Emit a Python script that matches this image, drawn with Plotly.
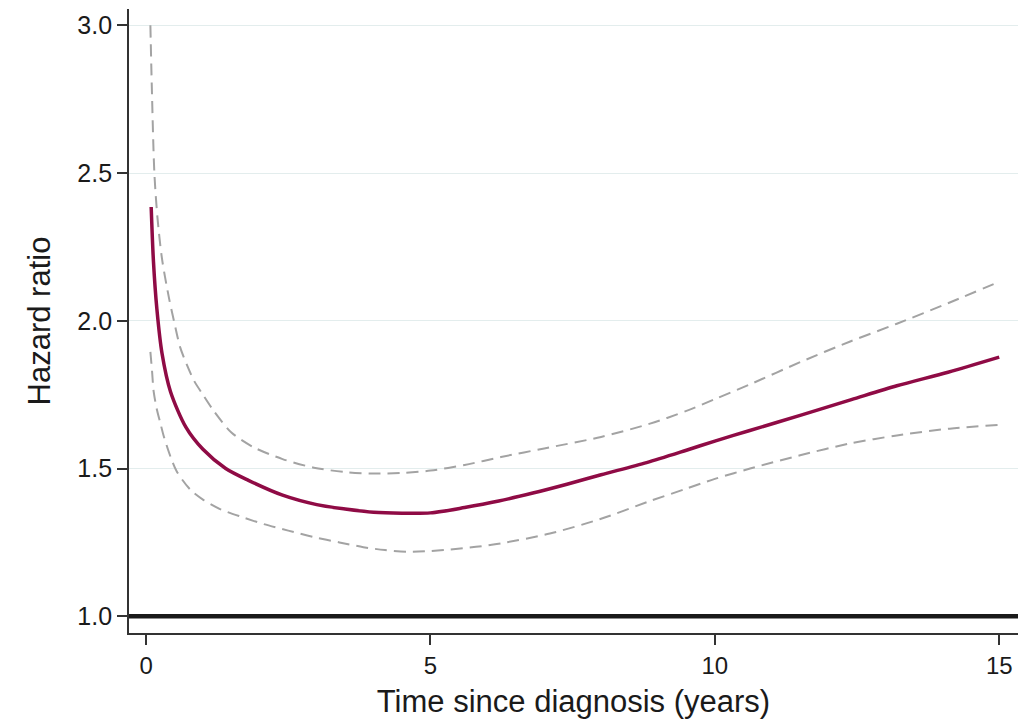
import plotly.graph_objects as go

# Estimated hazard ratio over time since diagnosis
t_hr = [0.09, 0.13, 0.19, 0.28, 0.43, 0.70, 1.0, 1.4, 1.8, 2.4, 3.0, 3.5, 4.0, 4.5,
        5.0, 5.6, 6.2, 6.8, 7.4, 8.0, 8.8, 9.5, 10.0, 10.6, 11.5, 12.4, 13.2, 14.1, 15.0]
hr = [2.385, 2.20, 2.04, 1.89, 1.76, 1.64, 1.565, 1.50, 1.46, 1.41, 1.378, 1.363, 1.352, 1.349,
      1.350, 1.368, 1.39, 1.417, 1.447, 1.479, 1.52, 1.562, 1.593, 1.628, 1.68, 1.733, 1.78, 1.826, 1.877]

# Upper 95% confidence limit
t_upper = [0.076, 0.10, 0.146, 0.20, 0.28, 0.40, 0.49, 0.60, 0.72, 0.85, 1.0, 1.19, 1.5, 1.89, 2.4,
           2.95, 3.5, 4.0, 4.5, 5.0, 5.6, 6.24, 7.0, 8.0, 8.86, 9.5, 10.0, 10.62, 11.5, 12.38, 13.2,
           14.13, 15.0]
upper = [3.00, 2.80, 2.50, 2.35, 2.21, 2.08, 2.00, 1.91, 1.85, 1.795, 1.75, 1.695, 1.622, 1.572, 1.532,
         1.503, 1.488, 1.483, 1.485, 1.493, 1.512, 1.539, 1.568, 1.607, 1.652, 1.695, 1.735, 1.785, 1.86,
         1.93, 1.99, 2.062, 2.132]

# Lower 95% confidence limit
t_lower = [0.076, 0.105, 0.134, 0.19, 0.25, 0.31, 0.43, 0.54, 0.78, 1.0, 1.31, 1.7, 2.07, 2.5,
           2.95, 3.4, 3.82, 4.2, 4.59, 5.0, 5.35, 5.8, 6.24, 7.1, 8.0, 8.86, 9.5, 10.0, 10.62, 11.5,
           12.38, 13.2, 14.13, 15.0]
lower = [1.895, 1.83, 1.76, 1.70, 1.655, 1.61, 1.54, 1.49, 1.428, 1.395, 1.362, 1.335, 1.312, 1.29,
         1.268, 1.25, 1.234, 1.224, 1.218, 1.221, 1.226, 1.235, 1.247, 1.28, 1.33, 1.39, 1.432, 1.465,
         1.50, 1.545, 1.585, 1.612, 1.635, 1.648]

x_ticks = [0, 5, 10, 15]
y_ticks = [1.0, 1.5, 2.0, 2.5, 3.0]
y_tick_text = ["1.0", "1.5", "2.0", "2.5", "3.0"]
reference_hr = 1.0

FONT = "Liberation Sans, Arial, sans-serif"
TXT = "#1a1a1a"

fig = go.Figure()

fig.add_trace(go.Scatter(x=t_upper, y=upper, mode="lines",
                         line=dict(color="#a3a3a3", width=2, dash="12px,7px", shape="spline", smoothing=0.8),
                         hoverinfo="skip", showlegend=False))
fig.add_trace(go.Scatter(x=t_lower, y=lower, mode="lines",
                         line=dict(color="#a3a3a3", width=2, dash="12px,7px", shape="spline", smoothing=0.8),
                         hoverinfo="skip", showlegend=False))
fig.add_trace(go.Scatter(x=t_hr, y=hr, mode="lines",
                         line=dict(color="#8f0b45", width=3.5, shape="spline", smoothing=0.8),
                         showlegend=False))

fig.add_shape(type="line", xref="paper", x0=0, x1=1, yref="y", y0=reference_hr, y1=reference_hr,
              line=dict(color="#1a1a1a", width=4.5), layer="above")

# the page body adds an 8px offset, so the figure is sized to fit the window
fig.update_layout(
    width=1022, height=711,
    margin=dict(l=121, r=12, t=1, b=86),
    paper_bgcolor="white", plot_bgcolor="white",
    font=dict(family=FONT, color=TXT),
)

fig.update_xaxes(
    range=[-0.30, 15.33], tickvals=x_ticks, ticktext=[str(v) for v in x_ticks],
    showgrid=False, zeroline=False, automargin=False,
    showline=True, linecolor="#333333", linewidth=1.8,
    ticks="outside", ticklen=10, tickwidth=1.8, tickcolor="#333333",
    tickfont=dict(size=24, family=FONT, color=TXT),
    title=dict(text="Time since diagnosis (years)", font=dict(size=31, family=FONT, color=TXT), standoff=16),
)

fig.update_yaxes(
    range=[0.9435, 3.055], tickvals=y_ticks, ticktext=y_tick_text,
    showgrid=True, gridcolor="#e3eded", gridwidth=1, zeroline=False, automargin=False,
    showline=True, linecolor="#333333", linewidth=1.8,
    ticks="outside", ticklen=10, tickwidth=1.8, tickcolor="#333333",
    tickfont=dict(size=25, family=FONT, color=TXT),
    ticklabelstandoff=0,
    title=dict(text="Hazard ratio", font=dict(size=31, family=FONT, color=TXT), standoff=17),
)

fig.write_html("out.html")
